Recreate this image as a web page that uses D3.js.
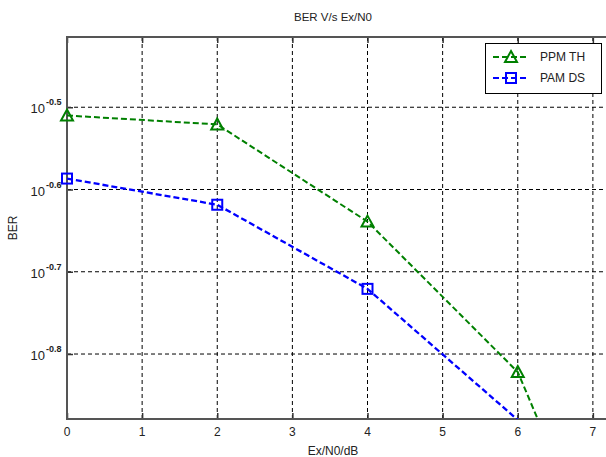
<!DOCTYPE html>
<html>
<head>
<meta charset="utf-8">
<script src="https://cdn.jsdelivr.net/npm/d3@7"></script>
<style>
body { margin: 0; background: #fff; }
text { font-family: "Liberation Sans", Arial, sans-serif; fill: #222; }
</style>
</head>
<body>
<script>
var w = 606;
var h = 457;

// data
var snr = [0, 2, 4, 6, 8];
var berPPM = [0.309, 0.3014, 0.2296, 0.1507, 0.056];
var berPAM = [0.259, 0.2407, 0.1902, 0.1318];
var xTicks = [0, 1, 2, 3, 4, 5, 6, 7];
var yExp = [-0.5, -0.6, -0.7, -0.8];
var seriesNames = ["PPM TH", "PAM DS"];

var pLeft = 67, pTop = 37, pBottom = 419, pRight = 668;

//Create scale functions
var xScale = d3.scaleLinear()
  .domain([0, 8])
  .range([pLeft, pRight]);

var yScale = d3.scaleLog()
  .domain([Math.pow(10, -0.879), Math.pow(10, -0.4146)])
  .range([pBottom, pTop]);

var svg = d3.select("body")
  .append("svg")
  .attr("width", w)
  .attr("height", h);

svg.append("defs").append("clipPath")
  .attr("id", "plotclip")
  .append("rect")
  .attr("x", pLeft).attr("y", pTop)
  .attr("width", pRight - pLeft).attr("height", pBottom - pTop);

// grid
var grid = svg.append("g");
grid.selectAll("line.vg")
  .data(xTicks.filter(function(d) { return d > 0; }))
  .enter().append("line")
  .attr("x1", function(d) { return xScale(d); })
  .attr("x2", function(d) { return xScale(d); })
  .attr("y1", pTop).attr("y2", pBottom)
  .attr("stroke", "#000").attr("stroke-width", 1)
  .attr("stroke-dasharray", "4,3");
grid.selectAll("line.hg")
  .data(yExp)
  .enter().append("line")
  .attr("x1", pLeft).attr("x2", pRight)
  .attr("y1", function(d) { return yScale(Math.pow(10, d)); })
  .attr("y2", function(d) { return yScale(Math.pow(10, d)); })
  .attr("stroke", "#000").attr("stroke-width", 1)
  .attr("stroke-dasharray", "4,3");

// ticks (inside) with D3 axes
var xAxis = d3.axisBottom(xScale).tickValues(xTicks).tickSize(-6).tickFormat("");
var xAxisTop = d3.axisTop(xScale).tickValues(xTicks).tickSize(-6).tickFormat("");
var yAxis = d3.axisLeft(yScale).tickValues(yExp.map(function(d) { return Math.pow(10, d); })).tickSize(-6).tickFormat("");

[svg.append("g").attr("transform", "translate(0," + pBottom + ")").call(xAxis),
 svg.append("g").attr("transform", "translate(0," + pTop + ")").call(xAxisTop),
 svg.append("g").attr("transform", "translate(" + pLeft + ",0)").call(yAxis)]
  .forEach(function(g) {
    g.selectAll(".domain").remove();
    g.selectAll("line").attr("stroke", "#333").attr("stroke-width", 1.5);
  });

// box
svg.append("path")
  .attr("d", "M" + pRight + "," + pTop + "H" + pLeft + "V" + pBottom + "H" + pRight)
  .attr("fill", "none")
  .attr("stroke", "#555")
  .attr("stroke-width", 2);

// tick labels
svg.selectAll("text.xl")
  .data(xTicks)
  .enter().append("text")
  .attr("x", function(d) { return xScale(d); })
  .attr("y", 436)
  .attr("text-anchor", "middle")
  .attr("font-size", 12)
  .text(function(d) { return d; });

var yl = svg.selectAll("g.yl")
  .data(yExp)
  .enter().append("g")
  .attr("transform", function(d) { return "translate(0," + yScale(Math.pow(10, d)) + ")"; });
yl.append("text")
  .attr("x", 45).attr("y", 6)
  .attr("text-anchor", "end")
  .attr("font-size", 13)
  .text("10");
yl.append("text")
  .attr("x", 46).attr("y", -2)
  .attr("font-size", 9)
  .attr("font-weight", "bold")
  .text(function(d) { return d.toFixed(1); });

// title and labels
svg.append("text")
  .attr("x", 333).attr("y", 21)
  .attr("text-anchor", "middle")
  .attr("font-size", 11.5)
  .text("BER V/s Ex/N0");
svg.append("text")
  .attr("x", 333).attr("y", 455)
  .attr("text-anchor", "middle")
  .attr("font-size", 12)
  .text("Ex/N0/dB");
svg.append("text")
  .attr("transform", "translate(17,228) rotate(-90)")
  .attr("text-anchor", "middle")
  .attr("font-size", 12)
  .text("BER");

// series
var green = "#008000", blue = "#0000ff";
var line = d3.line()
  .x(function(d) { return xScale(d[0]); })
  .y(function(d) { return yScale(d[1]); });

var plot = svg.append("g").attr("clip-path", "url(#plotclip)");
var ppm = d3.zip(snr, berPPM);
var pam = d3.zip(snr.slice(0, berPAM.length), berPAM);

plot.append("path").datum(ppm)
  .attr("d", line).attr("fill", "none")
  .attr("stroke", green).attr("stroke-width", 2).attr("stroke-dasharray", "6,3");
plot.append("path").datum(pam)
  .attr("d", line).attr("fill", "none")
  .attr("stroke", blue).attr("stroke-width", 2.3).attr("stroke-dasharray", "6,3");

var yd = yScale.domain();
function inside(d) { return d[1] >= yd[0] && d[1] <= yd[1] && d[0] <= 7.5; }

var tri = "M0,-6L6,5L-6,5Z";
svg.selectAll("path.tri")
  .data(ppm.filter(inside))
  .enter().append("path")
  .attr("d", tri)
  .attr("transform", function(d) { return "translate(" + xScale(d[0]) + "," + yScale(d[1]) + ")"; })
  .attr("fill", "none").attr("stroke", green).attr("stroke-width", 2);
svg.selectAll("rect.sq")
  .data(pam.filter(inside))
  .enter().append("rect")
  .attr("x", function(d) { return xScale(d[0]) - 5; })
  .attr("y", function(d) { return yScale(d[1]) - 5; })
  .attr("width", 10).attr("height", 10)
  .attr("fill", "none").attr("stroke", blue).attr("stroke-width", 2);

// legend
var lg = svg.append("g");
lg.append("rect")
  .attr("x", 485.5).attr("y", 43.5).attr("width", 116).attr("height", 50)
  .attr("fill", "#fff").attr("stroke", "#000").attr("stroke-width", 1);
var items = lg.selectAll("g.item")
  .data(seriesNames)
  .enter().append("g")
  .attr("transform", function(d, i) { return "translate(0," + (57 + i * 21) + ")"; });
items.append("line")
  .attr("x1", 493).attr("x2", 529).attr("y1", 0).attr("y2", 0)
  .attr("stroke", function(d, i) { return i ? blue : green; })
  .attr("stroke-width", 2).attr("stroke-dasharray", "6,3");
items.append("path")
  .attr("d", function(d, i) { return i ? "M-5,-5H5V5H-5Z" : tri; })
  .attr("transform", "translate(511,0)")
  .attr("fill", "none")
  .attr("stroke", function(d, i) { return i ? blue : green; })
  .attr("stroke-width", 2);
items.append("text")
  .attr("x", 540).attr("y", 4)
  .attr("font-size", 12)
  .text(function(d) { return d; });
</script>
</body>
</html>
